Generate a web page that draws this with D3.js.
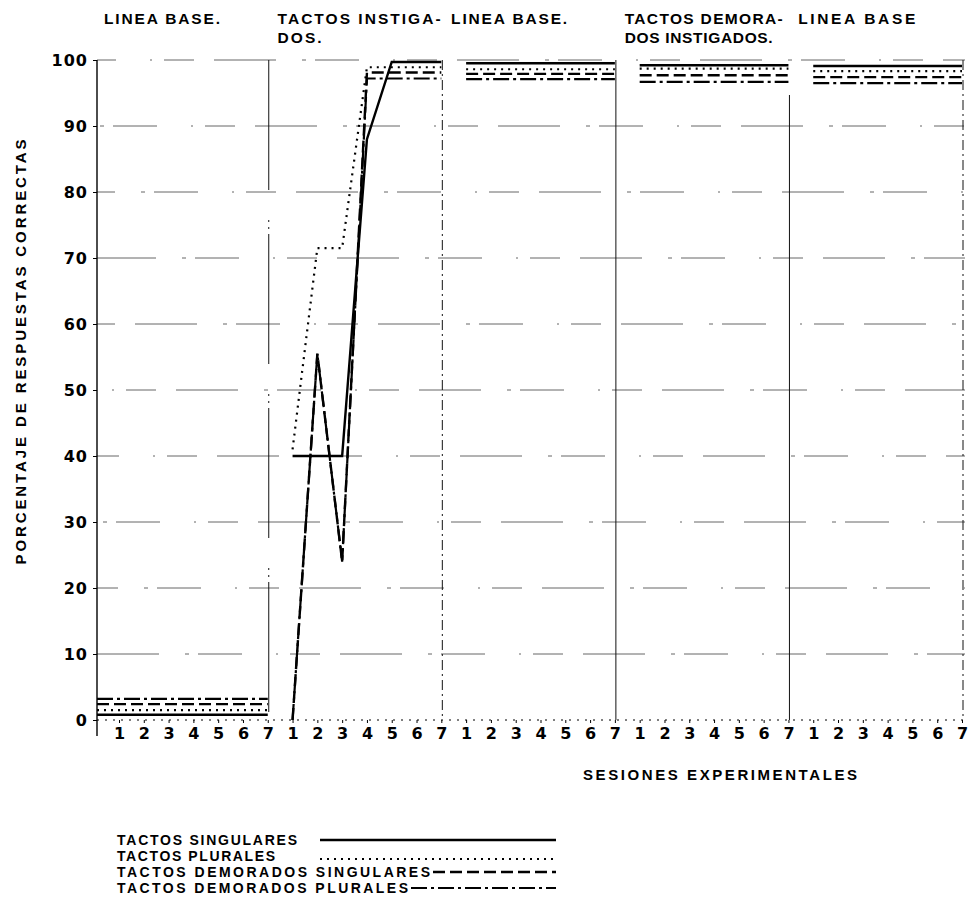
<!DOCTYPE html>
<html>
<head>
<meta charset="utf-8">
<script src="https://cdn.jsdelivr.net/npm/d3@7"></script>
<style>
  body { margin: 0; background: #fff; }
  text { font-family: "Liberation Sans", Arial, sans-serif; font-weight: bold; fill: #000; }
</style>
</head>
<body>
<script>
"use strict";

// phase titles (one entry per phase, one string per text line) and their widths
const fases = [
  ["LINEA BASE."],
  ["TACTOS INSTIGA-", "DOS."],
  ["LINEA BASE."],
  ["TACTOS DEMORA-", "DOS INSTIGADOS."],
  ["LINEA BASE"]
];
const fasesAncho = [[116], [163, 44], [116], [158, 148], [117]];
const sesionLabels = ["1", "2", "3", "4", "5", "6", "7"];
const yTicks = [0, 10, 20, 30, 40, 50, 60, 70, 80, 90, 100];

// % correct, 35 sessions (5 phases x 7)
const tactosSingulares = [
  0.8, 0.8, 0.8, 0.8, 0.8, 0.8, 0.8,
  40, 40, 40, 88, 99.7, 99.7, 99.7,
  99.5, 99.5, 99.5, 99.5, 99.5, 99.5, 99.5,
  99.2, 99.2, 99.2, 99.2, 99.2, 99.2, 99.2,
  99.1, 99.1, 99.1, 99.1, 99.1, 99.1, 99.1
];
const tactosPlurales = [
  1.5, 1.5, 1.5, 1.5, 1.5, 1.5, 1.5,
  41, 71.5, 71.5, 98.9, 98.9, 98.9, 98.9,
  98.6, 98.6, 98.6, 98.6, 98.6, 98.6, 98.6,
  98.7, 98.7, 98.7, 98.7, 98.7, 98.7, 98.7,
  98.3, 98.3, 98.3, 98.3, 98.3, 98.3, 98.3
];
const demoradosSingulares = [
  2.4, 2.4, 2.4, 2.4, 2.4, 2.4, 2.4,
  0, 55.5, 24, 98.1, 98.1, 98.1, 98.1,
  97.9, 97.9, 97.9, 97.9, 97.9, 97.9, 97.9,
  97.7, 97.7, 97.7, 97.7, 97.7, 97.7, 97.7,
  97.4, 97.4, 97.4, 97.4, 97.4, 97.4, 97.4
];
const demoradosPlurales = [
  3.2, 3.2, 3.2, 3.2, 3.2, 3.2, 3.2,
  0, 55.5, 24, 97.2, 97.2, 97.2, 97.2,
  97.1, 97.1, 97.1, 97.1, 97.1, 97.1, 97.1,
  96.7, 96.7, 96.7, 96.7, 96.7, 96.7, 96.7,
  96.5, 96.5, 96.5, 96.5, 96.5, 96.5, 96.5
];

const series = [
  { name: "TACTOS SINGULARES", values: tactosSingulares, dash: null, w: 2.4, tw: 180 },
  { name: "TACTOS PLURALES", values: tactosPlurales, dash: "2,5", w: 2.2, tw: 158 },
  { name: "TACTOS DEMORADOS SINGULARES", values: demoradosSingulares, dash: "12,5", w: 2.4, tw: 313 },
  { name: "TACTOS DEMORADOS PLURALES", values: demoradosPlurales, dash: "16,4,3,4", w: 2.2, tw: 291 }
];

const W = 972, H = 913;

const svg = d3.select("body").append("svg")
  .attr("width", W)
  .attr("height", H);

const x = d3.scaleLinear().domain([1, 35]).range([119, 962]);
const y = d3.scaleLinear().domain([0, 100]).range([720, 60]);
const axisX = 97;

// broken horizontal grid (scan-like fragments)
svg.append("g")
  .selectAll("line")
  .data(yTicks.slice(1))
  .enter()
  .append("line")
  .attr("x1", axisX)
  .attr("x2", 965)
  .attr("y1", d => y(d))
  .attr("y2", d => y(d))
  .attr("stroke", "#555")
  .attr("stroke-width", 0.9)
  .attr("stroke-dasharray", "62,26,4,9,44,34,2,12,30,20")
  .attr("stroke-dashoffset", (d, i) => i * 41);

// phase boundary verticals
const bordes = [
  { s: 7, dash: "130,30,2,5,2,5" },
  { s: 14, dash: "10,4,2,4" },
  { s: 21, dash: null },
  { s: 28, dash: "0,35,1000" },
  { s: 35, dash: "10,4,2,4" }
];
svg.append("g")
  .selectAll("line")
  .data(bordes)
  .enter()
  .append("line")
  .attr("x1", d => x(d.s) + 1)
  .attr("x2", d => x(d.s) + 1)
  .attr("y1", y(100))
  .attr("y2", y(0))
  .attr("stroke", "#111")
  .attr("stroke-width", 1)
  .attr("stroke-dasharray", d => d.dash);

// y axis
const gy = svg.append("g")
  .attr("transform", `translate(${axisX},0)`)
  .call(d3.axisLeft(y).tickValues(yTicks).tickSize(4).tickPadding(5).tickSizeOuter(0));
gy.select(".domain")
  .attr("d", `M0,${y(100)}V${y(0) + 16}`)
  .attr("stroke-width", 1.4);
gy.selectAll("text")
  .style("font-size", "16px")
  .style("letter-spacing", "1px")
  .style("font-family", "DejaVu Sans")
  .style("font-weight", "bold");

// x axis
const gx = svg.append("g")
  .attr("transform", `translate(0,${y(0)})`)
  .call(d3.axisBottom(x)
    .tickValues(d3.range(1, 36))
    .tickFormat(d => sesionLabels[(d - 1) % 7])
    .tickSize(3)
    .tickPadding(5)
    .tickSizeOuter(0));
gx.select(".domain")
  .attr("d", `M${axisX},0H965`)
  .attr("stroke-dasharray", "2,6")
  .attr("stroke-width", 1);
gx.selectAll("text")
  .style("font-size", "16px")
  .style("font-family", "DejaVu Sans")
  .style("font-weight", "bold");

// series, one path per phase
const line = d3.line()
  .x(d => x(d.s))
  .y(d => y(d.v));

series.forEach(se => {
  const tramos = fases.map((f, k) => {
    const pts = se.values.slice(k * 7, k * 7 + 7).map((v, j) => ({ s: k * 7 + j + 1, v: v }));
    // first baseline is drawn from the y axis
    if (k === 0) pts.unshift({ s: x.invert(axisX), v: pts[0].v });
    return pts;
  });
  svg.append("g")
    .selectAll("path")
    .data(tramos)
    .enter()
    .append("path")
    .attr("d", line)
    .attr("fill", "none")
    .attr("stroke", "#000")
    .attr("stroke-width", se.w)
    .attr("stroke-dasharray", se.dash);
});

// phase titles
fases.forEach((f, k) => {
  f.forEach((s, i) => {
    svg.append("text")
      .attr("x", x(k * 7 + 1) - 15)
      .attr("y", 24 + i * 19)
      .attr("textLength", fasesAncho[k][i])
      .attr("lengthAdjust", "spacing")
      .style("font-size", "15.5px")
      .text(s);
  });
});

// axis titles
svg.append("text")
  .attr("transform", "translate(26,352) rotate(-90)")
  .attr("text-anchor", "middle")
  .attr("textLength", 425)
  .attr("lengthAdjust", "spacing")
  .style("font-size", "15px")
  .text("PORCENTAJE DE RESPUESTAS CORRECTAS");

svg.append("text")
  .attr("x", 720)
  .attr("y", 780)
  .attr("text-anchor", "middle")
  .attr("textLength", 274)
  .attr("lengthAdjust", "spacing")
  .style("font-size", "15px")
  .text("SESIONES EXPERIMENTALES");

// legend
const leg = svg.append("g");
const legY = [845, 861, 877, 893];
series.forEach((se, i) => {
  leg.append("text")
    .attr("x", 117)
    .attr("y", legY[i])
    .attr("textLength", se.tw)
    .attr("lengthAdjust", "spacing")
    .style("font-size", "14px")
    .text(se.name);
  leg.append("line")
    .attr("x1", Math.max(320, 117 + se.tw + 3))
    .attr("x2", 556)
    .attr("y1", legY[i] - (se.dash === "2,5" ? 2 : 5))
    .attr("y2", legY[i] - (se.dash === "2,5" ? 2 : 5))
    .attr("stroke", "#000")
    .attr("stroke-width", se.w)
    .attr("stroke-dasharray", se.dash);
});
</script>
</body>
</html>
